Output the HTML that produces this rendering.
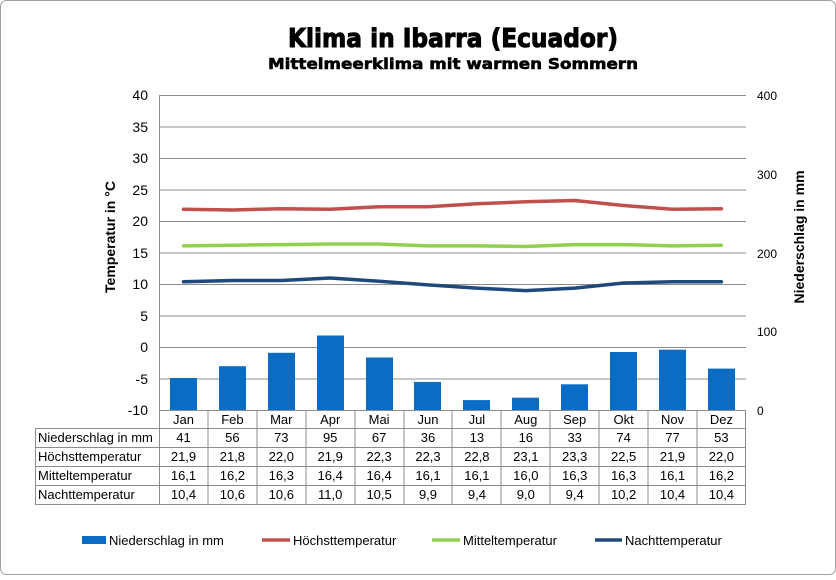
<!DOCTYPE html>
<html><head><meta charset="utf-8"><style>
body{margin:0;background:#fff;}
svg text{font-family:"Liberation Sans",Arial,sans-serif;}
svg text.t{font-family:"DejaVu Sans","Liberation Sans",sans-serif;}
</style></head><body>
<svg width="836" height="575" xmlns="http://www.w3.org/2000/svg">
<rect x="0.5" y="0.5" width="835" height="574" rx="6" fill="#fff" stroke="#a0a0a0"/>
<text class="t" x="288" y="47" font-size="26" font-weight="bold" textLength="330" lengthAdjust="spacingAndGlyphs" stroke="#000" stroke-width="1">Klima in Ibarra (Ecuador)</text>
<text class="t" x="268" y="69" font-size="15.5" font-weight="bold" textLength="370" lengthAdjust="spacingAndGlyphs" stroke="#000" stroke-width="0.6">Mittelmeerklima mit warmen Sommern</text>
<g stroke="#8c8c8c" stroke-width="1">
<line x1="159" y1="95.5" x2="746" y2="95.5"/><line x1="159" y1="127" x2="746" y2="127"/>
<line x1="159" y1="158.5" x2="746" y2="158.5"/><line x1="159" y1="190" x2="746" y2="190"/>
<line x1="159" y1="221.5" x2="746" y2="221.5"/><line x1="159" y1="253" x2="746" y2="253"/>
<line x1="159" y1="284.5" x2="746" y2="284.5"/><line x1="159" y1="316" x2="746" y2="316"/>
<line x1="159" y1="347.5" x2="746" y2="347.5"/><line x1="159" y1="379" x2="746" y2="379"/>
<line x1="159.5" y1="95" x2="159.5" y2="504"/>
</g>
<g font-size="14" text-anchor="end">
<text x="148" y="100">40</text><text x="148" y="132">35</text><text x="148" y="163">30</text>
<text x="148" y="195">25</text><text x="148" y="226">20</text><text x="148" y="258">15</text>
<text x="148" y="289">10</text><text x="148" y="321">5</text><text x="148" y="352">0</text>
<text x="148" y="384">-5</text><text x="148" y="415">-10</text>
</g>
<g font-size="12">
<text x="757" y="100">400</text><text x="757" y="179">300</text><text x="757" y="258">200</text>
<text x="757" y="336">100</text><text x="757" y="415">0</text>
</g>
<text transform="translate(115,237) rotate(-90)" font-size="14" font-weight="bold" text-anchor="middle">Temperatur in °C</text>
<text transform="translate(804,237) rotate(-90)" font-size="14" font-weight="bold" text-anchor="middle">Niederschlag in mm</text>
<g fill="#0a6cc4">
<rect x="170" y="378" width="27" height="32.3"/><rect x="219" y="366.2" width="27" height="44.1"/>
<rect x="268" y="352.8" width="27" height="57.5"/><rect x="317" y="335.5" width="27" height="74.8"/>
<rect x="366" y="357.5" width="27" height="52.8"/><rect x="414" y="381.9" width="27" height="28.4"/>
<rect x="463" y="400.1" width="27" height="10.2"/><rect x="512" y="397.7" width="27" height="12.6"/>
<rect x="561" y="384.3" width="27" height="26"/><rect x="610" y="352" width="27" height="58.3"/>
<rect x="659" y="349.7" width="27" height="60.6"/><rect x="708" y="368.6" width="27" height="41.7"/>
</g>
<g fill="none" stroke-width="3.5" stroke-linejoin="round" stroke-linecap="round">
<polyline stroke="#c0504d" points="183.5,209.3 232.4,210 281.3,208.7 330.2,209.3 379.1,206.8 428,206.8 476.9,203.7 525.8,201.8 574.7,200.5 623.6,205.5 672.5,209.3 721.4,208.7"/>
<polyline stroke="#92d050" points="183.5,245.9 232.4,245.2 281.3,244.6 330.2,244 379.1,244 428,245.9 476.9,245.9 525.8,246.5 574.7,244.6 623.6,244.6 672.5,245.9 721.4,245.2"/>
<polyline stroke="#1f497d" points="183.5,281.8 232.4,280.5 281.3,280.5 330.2,278 379.1,281.2 428,284.9 476.9,288.1 525.8,290.6 574.7,288.1 623.6,283 672.5,281.8 721.4,281.8"/>
</g>
<g stroke="#8c8c8c" stroke-width="1">
<line x1="159" y1="410.5" x2="746" y2="410.5"/>
<line x1="35" y1="428.5" x2="746" y2="428.5"/><line x1="35" y1="447.5" x2="746" y2="447.5"/>
<line x1="35" y1="466.5" x2="746" y2="466.5"/><line x1="35" y1="485.5" x2="746" y2="485.5"/>
<line x1="35" y1="504.5" x2="746" y2="504.5"/><line x1="35.5" y1="428" x2="35.5" y2="504"/>
<line x1="208" y1="410" x2="208" y2="504"/><line x1="257" y1="410" x2="257" y2="504"/>
<line x1="306" y1="410" x2="306" y2="504"/><line x1="355" y1="410" x2="355" y2="504"/>
<line x1="404" y1="410" x2="404" y2="504"/><line x1="452" y1="410" x2="452" y2="504"/>
<line x1="501" y1="410" x2="501" y2="504"/><line x1="550" y1="410" x2="550" y2="504"/>
<line x1="599" y1="410" x2="599" y2="504"/><line x1="648" y1="410" x2="648" y2="504"/>
<line x1="697" y1="410" x2="697" y2="504"/><line x1="745.5" y1="410" x2="745.5" y2="504"/>
</g>
<g font-size="13">
<text x="38" y="442">Niederschlag in mm</text><text x="38" y="461">Höchsttemperatur</text>
<text x="38" y="480">Mitteltemperatur</text><text x="38" y="499">Nachttemperatur</text>
</g>
<g font-size="13" text-anchor="middle">
<text x="183.5" y="424">Jan</text><text x="232.4" y="424">Feb</text><text x="281.3" y="424">Mar</text><text x="330.2" y="424">Apr</text><text x="379.1" y="424">Mai</text><text x="428" y="424">Jun</text><text x="476.9" y="424">Jul</text><text x="525.8" y="424">Aug</text><text x="574.7" y="424">Sep</text><text x="623.6" y="424">Okt</text><text x="672.5" y="424">Nov</text><text x="721.4" y="424">Dez</text>
<text x="183.5" y="442">41</text><text x="232.4" y="442">56</text><text x="281.3" y="442">73</text><text x="330.2" y="442">95</text><text x="379.1" y="442">67</text><text x="428" y="442">36</text><text x="476.9" y="442">13</text><text x="525.8" y="442">16</text><text x="574.7" y="442">33</text><text x="623.6" y="442">74</text><text x="672.5" y="442">77</text><text x="721.4" y="442">53</text>
<text x="183.5" y="461">21,9</text><text x="232.4" y="461">21,8</text><text x="281.3" y="461">22,0</text><text x="330.2" y="461">21,9</text><text x="379.1" y="461">22,3</text><text x="428" y="461">22,3</text><text x="476.9" y="461">22,8</text><text x="525.8" y="461">23,1</text><text x="574.7" y="461">23,3</text><text x="623.6" y="461">22,5</text><text x="672.5" y="461">21,9</text><text x="721.4" y="461">22,0</text>
<text x="183.5" y="480">16,1</text><text x="232.4" y="480">16,2</text><text x="281.3" y="480">16,3</text><text x="330.2" y="480">16,4</text><text x="379.1" y="480">16,4</text><text x="428" y="480">16,1</text><text x="476.9" y="480">16,1</text><text x="525.8" y="480">16,0</text><text x="574.7" y="480">16,3</text><text x="623.6" y="480">16,3</text><text x="672.5" y="480">16,1</text><text x="721.4" y="480">16,2</text>
<text x="183.5" y="499">10,4</text><text x="232.4" y="499">10,6</text><text x="281.3" y="499">10,6</text><text x="330.2" y="499">11,0</text><text x="379.1" y="499">10,5</text><text x="428" y="499">9,9</text><text x="476.9" y="499">9,4</text><text x="525.8" y="499">9,0</text><text x="574.7" y="499">9,4</text><text x="623.6" y="499">10,2</text><text x="672.5" y="499">10,4</text><text x="721.4" y="499">10,4</text>
</g>
<rect x="82" y="536" width="24" height="8" fill="#0a6cc4"/>
<line x1="262" y1="540" x2="290" y2="540" stroke="#c0504d" stroke-width="3.5"/>
<line x1="432" y1="540" x2="460" y2="540" stroke="#92d050" stroke-width="3.5"/>
<line x1="595" y1="540" x2="622" y2="540" stroke="#1f497d" stroke-width="3.5"/>
<g font-size="13">
<text x="109" y="545">Niederschlag in mm</text><text x="293" y="545">Höchsttemperatur</text>
<text x="463" y="545">Mitteltemperatur</text><text x="625" y="545">Nachttemperatur</text>
</g>
</svg>
</body></html>
